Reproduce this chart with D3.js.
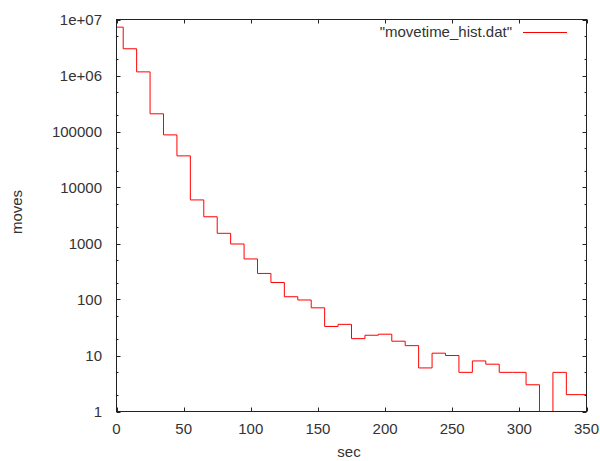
<!DOCTYPE html>
<html><head><meta charset="utf-8">
<script src="https://cdn.jsdelivr.net/npm/d3@7"></script>
<style>body{margin:0;background:#fff}svg{display:block}text{font-family:"Liberation Sans",Arial,sans-serif;fill:#333}</style>
</head><body><svg id="c" width="600" height="461"></svg>
<script>
const binCenters = [0,10,20,30,40,50,60,70,80,90,100,110,120,130,140,150,160,170,180,190,200,210,220,230,240,250,260,270,280,290,300,310,320,330,340,350];
const moveCounts = [7300000,3000000,1160000,207000,87000,36700,6000,3000,1520,980,530,292,201,112,98,71,33,36,20,23,24,18,15,6,11,10,5,8,7,5,5,3,0,5,2,2];
const xTicks = [0,50,100,150,200,250,300,350];
const yTicks = [1,10,100,1000,10000,100000,1000000,10000000];
const yTickLabels = ["1","10","100","1000","10000","100000","1e+06","1e+07"];
const yMinor = [2,5,20,50,200,500,2000,5000,20000,50000,200000,500000,2000000,5000000];
const seriesName = "\"movetime_hist.dat\"";

const svg = d3.select("#c");
const L = 116.5, R = 586.5, T = 19.5, B = 411.5;
const x = d3.scaleLinear().domain([0,350]).range([L,R]);
const y = d3.scaleLog().domain([1,1e7]).range([B,T]);

svg.append("defs").append("clipPath").attr("id","clip")
  .append("rect").attr("x",L).attr("y",T).attr("width",R-L).attr("height",B-T);

const pts = binCenters.map((c,i)=>[c, Math.max(moveCounts[i],1)]);
const line = d3.line().x(d=>x(d[0])).y(d=>y(d[1])).curve(d3.curveStep);
svg.append("path").attr("d", line(pts)).attr("fill","none").attr("stroke","#ff0000")
  .attr("stroke-width",1).attr("clip-path","url(#clip)");

const ax = svg.append("g").attr("stroke","#222").attr("stroke-width",1).attr("fill","none");
ax.append("rect").attr("x",L).attr("y",T).attr("width",R-L).attr("height",B-T);
xTicks.forEach(t=>{
  const px = Math.round(x(t))+0.5;
  ax.append("line").attr("x1",px).attr("x2",px).attr("y1",B).attr("y2",B-4);
  ax.append("line").attr("x1",px).attr("x2",px).attr("y1",T).attr("y2",T+4);
});
yTicks.forEach(t=>{
  const py = Math.round(y(t))+0.5;
  ax.append("line").attr("x1",L).attr("x2",L+4).attr("y1",py).attr("y2",py);
  ax.append("line").attr("x1",R).attr("x2",R-4).attr("y1",py).attr("y2",py);
});
yMinor.forEach(t=>{
  const py = Math.round(y(t))+0.5;
  ax.append("line").attr("x1",L).attr("x2",L+2).attr("y1",py).attr("y2",py);
  ax.append("line").attr("x1",R).attr("x2",R-2).attr("y1",py).attr("y2",py);
});

svg.selectAll(".xl").data(xTicks).enter().append("text")
  .attr("x",d=>x(d)).attr("y",434).attr("text-anchor","middle").attr("font-size",15).text(d=>d);
svg.selectAll(".yl").data(yTicks).enter().append("text")
  .attr("x",102).attr("y",d=>y(d)+5).attr("text-anchor","end").attr("font-size",15)
  .text((d,i)=>yTickLabels[i]);

svg.append("text").attr("x",349).attr("y",457).attr("text-anchor","middle").attr("font-size",15).text("sec");
svg.append("text").attr("transform","translate(22,212) rotate(-90)").attr("text-anchor","middle")
  .attr("font-size",15).text("moves");

svg.append("text").attr("x",512).attr("y",37).attr("text-anchor","end").attr("font-size",15).text(seriesName);
svg.append("line").attr("x1",523).attr("x2",567).attr("y1",32.5).attr("y2",32.5)
  .attr("stroke","#ff0000").attr("stroke-width",1);
</script></body></html>
